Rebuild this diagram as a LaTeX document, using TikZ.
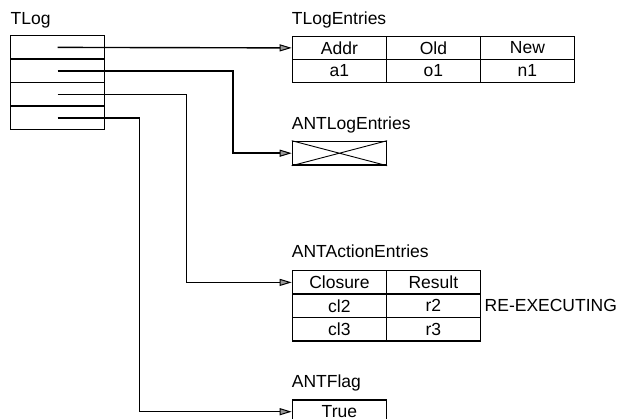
\documentclass[tikz,border=0pt]{standalone}
\usepackage{fontspec}
\setmainfont{Liberation Sans}
\usetikzlibrary{arrows.meta}
\begin{document}
\begin{tikzpicture}[x=1pt,y=-1pt,
  every node/.style={font=\fontsize{17.5}{20}\selectfont},
  cell/.style={draw,line width=1.4pt,minimum width=94pt,minimum height=23.4pt,inner sep=0pt,anchor=north west},
  lbl/.style={anchor=base west,inner sep=0pt},
  tipshape/.tip={Triangle[length=12pt,width=7pt,fill=black!40,line width=1pt]},
  ptr/.style={line width=1.4pt,-tipshape}]
\useasboundingbox (0,0) rectangle (617,419);
% TLog
\node[lbl] (tlogl) at (10.5,25) {TLog};
\node[cell] (t1) at (10,35) {};
\node[cell] (t2) at (10,58.5) {};
\node[cell] (t3) at (10,82) {};
\node[cell] (t4) at (10,105.5) {};
% TLogEntries
\node[lbl] (tel) at (291.7,25) {TLogEntries};
\node[cell,minimum height=23pt] (e11) at (291.7,35.7) {Addr};
\node[cell,minimum height=23pt] (e12) at (385.7,35.7) {Old};
\node[cell,minimum height=23pt] (e13) at (479.7,35.7) {New};
\node[cell,minimum height=23pt] (e21) at (291.7,58.7) {a1};
\node[cell,minimum height=23pt] (e22) at (385.7,58.7) {o1};
\node[cell,minimum height=23pt] (e23) at (479.7,58.7) {n1};
% ANTLogEntries
\node[lbl] (all) at (291.7,130) {ANTLogEntries};
\node[cell,minimum height=23.6pt] (alog) at (291.7,140.7) {};
\draw[line width=0.9pt] (alog.north west) -- (alog.south east) (alog.south west) -- (alog.north east);
% ANTActionEntries
\node[lbl] (aal) at (291.7,258) {ANTActionEntries};
\node[cell] (a11) at (291.7,270) {Closure};
\node[cell] (a12) at (385.7,270) {Result};
\node[cell] (a21) at (291.7,293.4) {cl2};
\node[cell] (a22) at (385.7,293.4) {r2};
\node[cell] (a31) at (291.7,316.8) {cl3};
\node[cell] (a32) at (385.7,316.8) {r3};
\node[anchor=west,inner sep=0pt] (reex) at (484.5,305.2) {RE-EXECUTING};
% ANTFlag
\node[lbl] (afl) at (291.7,387.5) {ANTFlag};
\node[cell] (flag) at (291.7,399.3) {True};
% pointers
\draw[ptr] (t1.center) -- (e11.west);
\draw[ptr] (t2.center) -- ++(175.3,0) |- (alog.west);
\draw[ptr] (t3.center) -- ++(128.7,0) |- (a11.west);
\draw[ptr] (t4.center) -- ++(82,0) |- (flag.west);
\end{tikzpicture}
\end{document}
